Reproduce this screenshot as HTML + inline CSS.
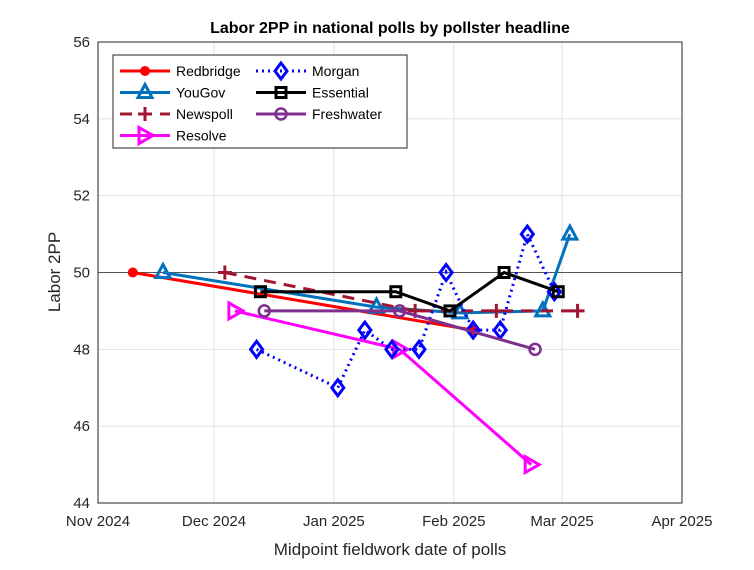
<!DOCTYPE html>
<html><head><meta charset="utf-8"><style>
body{margin:0;background:#fff;font-family:"Liberation Sans",sans-serif}
</style></head><body>
<svg id="c" width="754" height="565" xmlns="http://www.w3.org/2000/svg" font-family="Liberation Sans, sans-serif"></svg>
<script>
const xTickLabels=["Nov 2024","Dec 2024","Jan 2025","Feb 2025","Mar 2025","Apr 2025"];
const xTickDays=[0,30,61,92,120,151];
const yTicks=[44,46,48,50,52,54,56];
const redbridgeX=[9,97], redbridgeY=[50,48.5];
const yougovX=[16.8,72,93.6,115,122], yougovY=[50,49.1,48.95,49,51];
const newspollX=[32.8,82,103,124], newspollY=[50,49,49,49];
const resolveX=[35.4,78,112], resolveY=[49,48,45];
const morganX=[41,62,69,76,83,90,97,104,111,118], morganY=[48,47,48.5,48,48,50,48.5,48.5,51,49.5];
const essentialX=[42,77,91,105,119], essentialY=[49.5,49.5,49,50,49.5];
const freshX=[43,78,113], freshY=[49,49,48];
const L=98,R=682,T=42,B=503;
const sx=d=>L+d*(R-L)/151, sy=v=>B-(v-44)*(B-T)/12;
const svg=document.getElementById('c');const NS="http://www.w3.org/2000/svg";
function mk(t,a,p){const e=document.createElementNS(NS,t);for(const k in a)e.setAttribute(k,a[k]);(p||svg).appendChild(e);return e;}
mk('rect',{x:L,y:T,width:R-L,height:B-T,fill:'#fff',stroke:'none'});
xTickDays.forEach((d,i)=>{const g=mk('line',{x1:sx(d),x2:sx(d),y1:T,y2:B,stroke:'#e0e0e0'});

const t=mk('text',{x:sx(d),y:B+23,'text-anchor':'middle','font-size':15,fill:'#262626'});t.textContent=xTickLabels[i];
});
yTicks.forEach(v=>{const g=mk('line',{x1:L,x2:R,y1:sy(v),y2:sy(v),stroke:'#e0e0e0'});

const t=mk('text',{x:L-8,y:sy(v)+5,'text-anchor':'end','font-size':15,fill:'#262626'});t.textContent=v;
});
const ref=mk('line',{x1:L,x2:R,y1:sy(50),y2:sy(50),stroke:'#555','stroke-width':1});

const ax=mk('rect',{x:L,y:T,width:R-L,height:B-T,fill:'none',stroke:'#262626'});

function marker(type,x,y,c,p){const g=p||svg;let e;
if(type=='circle')e=mk('circle',{cx:x,cy:y,r:5,fill:c},g);
else if(type=='tri')e=mk('polygon',{points:`${x},${y-8} ${x-7},${y+5} ${x+7},${y+5}`,fill:'none',stroke:c,'stroke-width':3},g);
else if(type=='plus')e=mk('path',{d:`M${x-7},${y}H${x+7}M${x},${y-7}V${y+7}`,stroke:c,'stroke-width':3},g);
else if(type=='right')e=mk('polygon',{points:`${x-6},${y-8} ${x+8},${y} ${x-6},${y+8}`,fill:'none',stroke:c,'stroke-width':3},g);
else if(type=='dia')e=mk('polygon',{points:`${x},${y-8} ${x+6},${y} ${x},${y+8} ${x-6},${y}`,fill:'none',stroke:c,'stroke-width':3},g);
else if(type=='sq')e=mk('rect',{x:x-5,y:y-5,width:10,height:10,fill:'none',stroke:c,'stroke-width':3},g);
else if(type=='circ')e=mk('circle',{cx:x,cy:y,r:5.5,fill:'none',stroke:c,'stroke-width':2.5},g);
}
const series=[
['redbridge',redbridgeX,redbridgeY,'#ff0000','circle',''],
['yougov',yougovX,yougovY,'#0072bd','tri',''],
['newspoll',newspollX,newspollY,'#a2142f','plus','12,8'],
['resolve',resolveX,resolveY,'#ff00ff','right',''],
['morgan',morganX,morganY,'#0000ff','dia','2,4'],
['essential',essentialX,essentialY,'#000000','sq',''],
['freshwater',freshX,freshY,'#7e2f8e','circ','']];
series.forEach(s=>{const g=mk('g',{});
const pts=s[1].map((d,i)=>sx(d)+','+sy(s[2][i])).join(' ');
const pl=mk('polyline',{points:pts,fill:'none',stroke:s[3],'stroke-width':3,'stroke-dasharray':s[5]||'none'},g);

s[1].forEach((d,i)=>marker(s[4],sx(d),sy(s[2][i]),s[3],g));});
const lg=mk('g',{});
mk('rect',{x:113,y:55,width:294,height:93,fill:'#fff',stroke:'#262626'},lg);
const order=[0,4,1,5,2,6,3];
order.forEach((si,k)=>{const s=series[si];const col=k%2,row=Math.floor(k/2);const x0=col?256:120,y0=71+row*21.5;
const e=mk('g',{},lg);
mk('line',{x1:x0,x2:x0+50,y1:y0,y2:y0,stroke:s[3],'stroke-width':3,'stroke-dasharray':s[5]||'none'},e);
marker(s[4],x0+25,y0,s[3],e);
const t=mk('text',{x:x0+56,y:y0+5,'font-size':14,fill:'#000'},e);t.textContent=s[0]=='yougov'?'YouGov':s[0][0].toUpperCase()+s[0].slice(1);});
let t=mk('text',{x:390,y:33,'text-anchor':'middle','font-size':16,'font-weight':'bold',fill:'#000'});t.textContent='Labor 2PP in national polls by pollster headline';

t=mk('text',{x:390,y:555,'text-anchor':'middle','font-size':17,fill:'#262626'});t.textContent='Midpoint fieldwork date of polls';

t=mk('text',{x:60,y:272,'text-anchor':'middle','font-size':17,fill:'#262626',transform:'rotate(-90 60 272)'});t.textContent='Labor 2PP';

</script></body></html>
